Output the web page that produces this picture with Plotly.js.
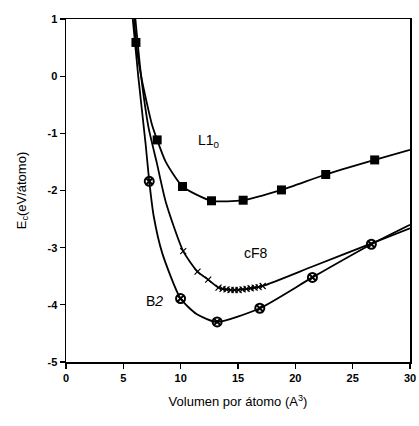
<!DOCTYPE html>
<html>
<head>
<meta charset="utf-8">
<script src="https://cdn.plot.ly/plotly-3.0.1.min.js"></script>
<style>html,body{margin:0;padding:0;background:#fff;}#chart{width:419px;height:426px;}</style>
</head>
<body>
<div id="chart"></div>
<script>
// ---- data ----
// L1_0 (filled squares)
const l10X = [6.10, 7.95, 10.16, 12.69, 15.45, 18.79, 22.65, 26.92];
const l10Y = [0.59, -1.115, -1.93, -2.18, -2.17, -1.99, -1.72, -1.465];
const l10CurveX = [5.95, 6.10, 6.6, 7.5, 7.95, 8.7, 10.16, 12.69, 15.45, 18.79, 22.65, 26.92, 30];
const l10CurveY = [1.0, 0.59, -0.05, -0.85, -1.115, -1.5, -1.93, -2.18, -2.17, -1.99, -1.72, -1.465, -1.29];

// cF8 (open cross markers)
const cf8X = [10.22, 11.47, 12.4, 13.3, 13.65, 14.0, 14.35, 14.7, 15.05, 15.4, 15.75, 16.1, 16.45, 16.8, 17.15];
const cf8Y = [-3.06, -3.42, -3.56, -3.70, -3.72, -3.73, -3.74, -3.74, -3.74, -3.73, -3.72, -3.71, -3.70, -3.69, -3.67];
const cf8CurveX = [6.05, 6.55, 7.2, 7.9, 8.7, 10.22, 11.47, 12.4, 13.3, 14.35, 15.4, 17.15, 21.5, 26.6, 30];
const cf8CurveY = [1.0, 0.0, -0.9, -1.5, -2.2, -3.06, -3.42, -3.56, -3.70, -3.74, -3.73, -3.67, -3.33, -2.93, -2.66];

// B2 (crossed circles)
const b2X = [7.26, 9.99, 13.18, 16.9, 21.49, 26.63];
const b2Y = [-1.84, -3.89, -4.30, -4.06, -3.52, -2.94];
const b2CurveX = [5.82, 6.3, 6.95, 7.26, 7.65, 8.4, 9.99, 11.38, 13.18, 16.9, 21.49, 26.63, 30];
const b2CurveY = [1.0, 0.0, -1.2, -1.84, -2.45, -3.1, -3.89, -4.16, -4.30, -4.06, -3.52, -2.94, -2.60];

// tick labels
const xTickVals = [0, 5, 10, 15, 20, 25, 30];
const xTickText = ["0", "5", "10", "15", "20", "25", "30"];
const yTickVals = [1, 0, -1, -2, -3, -4, -5];
const yTickText = ["1", "0", "-1", "-2", "-3", "-4", "-5"];

// labels
const labelText = ["L1<sub>0</sub>", "cF8", "B<i>2</i>"];
const labelX = [11.3, 16.55, 7.7];
const labelY = [-1.13, -3.09, -3.93];

const lineStyle = {color: '#000', width: 1.8, shape: 'spline', smoothing: 0.6};
const bold = s => '<b>' + s + '</b>';

const traces = [
  {x: l10CurveX, y: l10CurveY, mode: 'lines', line: lineStyle, hoverinfo: 'skip'},
  {x: cf8CurveX, y: cf8CurveY, mode: 'lines', line: lineStyle, hoverinfo: 'skip'},
  {x: b2CurveX, y: b2CurveY, mode: 'lines', line: lineStyle, hoverinfo: 'skip'},
  {x: l10X, y: l10Y, mode: 'markers', marker: {symbol: 'square', size: 9, color: '#000'}},
  {x: cf8X, y: cf8Y, mode: 'markers', marker: {symbol: 'x-thin-open', size: 6, color: '#000', line: {color: '#000', width: 1.2}}},
  {x: b2X, y: b2Y, mode: 'markers', marker: {symbol: 'circle-x-open', size: 9, color: '#000', line: {color: '#000', width: 2}}}
];

const annotations = labelText.map((t, i) => ({
  x: labelX[i], y: labelY[i], xref: 'x', yref: 'y', text: t, showarrow: false,
  xanchor: i === 0 ? 'left' : 'center', yanchor: 'middle',
  font: {family: 'Liberation Sans, Arial, sans-serif', size: 14, color: '#000'}
}));

const layout = {
  width: 419, height: 426,
  margin: {l: 66, r: 9, t: 19, b: 64},
  showlegend: false,
  paper_bgcolor: '#fff', plot_bgcolor: '#fff',
  font: {family: 'Liberation Sans, Arial, sans-serif', color: '#000'},
  xaxis: {
    range: [0, 30], tickvals: xTickVals, ticktext: xTickText.map(bold),
    showgrid: false, zeroline: false, showline: true, linecolor: '#000', linewidth: 1.5,
    mirror: true, ticks: 'outside', ticklen: 5, tickwidth: 1.2, tickcolor: '#000',
    tickfont: {family: 'Liberation Sans, Arial, sans-serif', size: 11},
    title: {text: 'Volumen por átomo (A<sup>3</sup>)', font: {size: 13}, standoff: 14}
  },
  yaxis: {
    range: [-5, 1], tickvals: yTickVals, ticktext: yTickText.map(bold),
    showgrid: false, zeroline: false, showline: true, linecolor: '#000', linewidth: 1.5,
    mirror: true, ticks: 'outside', ticklen: 5, tickwidth: 1.2, tickcolor: '#000',
    tickfont: {family: 'Liberation Sans, Arial, sans-serif', size: 11},
    title: {text: 'E<sub>c</sub>(eV/átomo)', font: {size: 13}, standoff: 18}
  },
  annotations: annotations
};

Plotly.newPlot('chart', traces, layout, {displayModeBar: false, staticPlot: true});
</script>
</body>
</html>
